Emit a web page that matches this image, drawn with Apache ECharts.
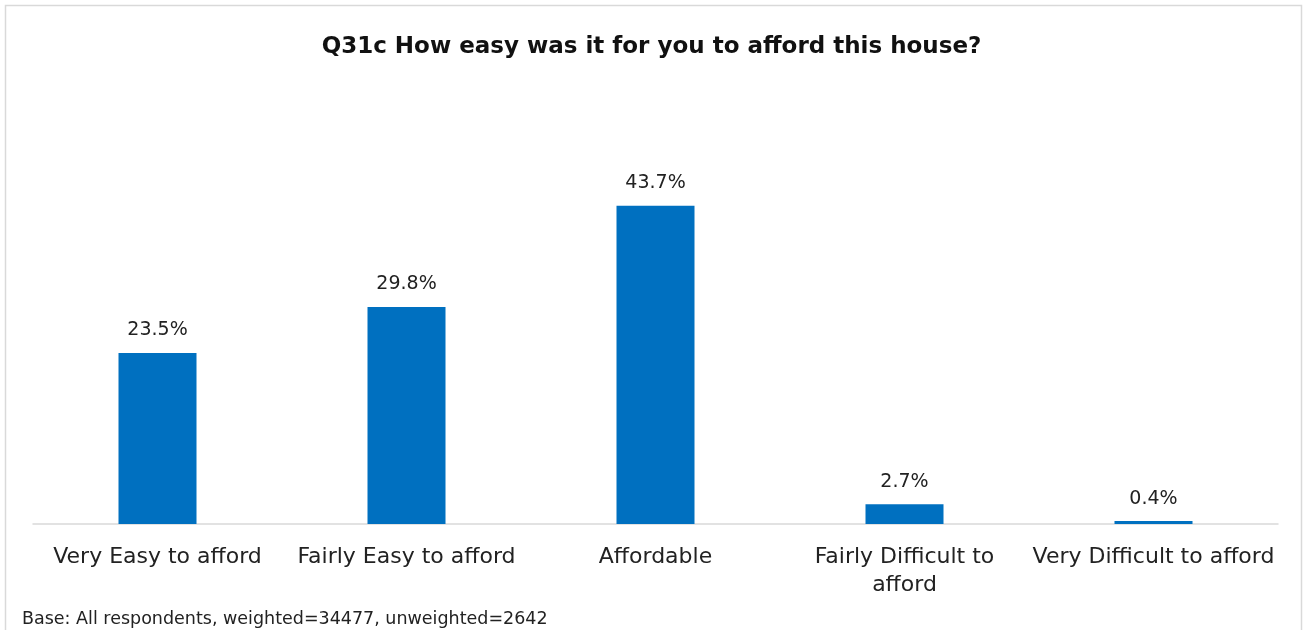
<!DOCTYPE html>
<html>
<head>
<meta charset="utf-8">
<script src="https://cdn.jsdelivr.net/npm/echarts@6/dist/echarts.min.js"></script>
<style>
html,body{margin:0;padding:0;background:#fff;}
#chart{width:1303px;height:630px;}
</style>
</head>
<body>
<div id="chart"></div>
<script>
const titleText = 'Q31c How easy was it for you to afford this house?';
const footnote = 'Base: All respondents, weighted=34477, unweighted=2642';
const categories = ['Very Easy to afford', 'Fairly Easy to afford', 'Affordable', 'Fairly Difficult to afford', 'Very Difficult to afford'];
const values = [23.5, 29.8, 43.7, 2.7, 0.4];
const wrapped = {'Fairly Difficult to afford': 'Fairly Difficult to\nafford'};

const FONT = 'DejaVu Sans';
const chart = echarts.init(document.getElementById('chart'), null, {renderer: 'canvas'});
chart.setOption({
  backgroundColor: '#ffffff',
  animation: false,
  title: {
    text: titleText,
    left: 'center',
    top: 31,
    textStyle: {fontFamily: FONT, fontSize: 23, fontWeight: 'bold', color: '#111'}
  },
  graphic: [
    {type: 'rect', shape: {x: 5.5, y: 5.5, width: 1296, height: 640}, style: {fill: 'none', stroke: '#d9d9d9', lineWidth: 1.5}, silent: true},
    {type: 'text', left: 22, top: 610, style: {text: footnote, fontFamily: FONT, fontSize: 17.5, fill: '#222'}}
  ],
  grid: {left: 33, right: 25, top: 160, bottom: 106, containLabel: false},
  xAxis: {
    type: 'category',
    data: categories,
    axisLine: {show: true, lineStyle: {color: '#d9d9d9', width: 1.5}},
    axisTick: {show: false},
    axisLabel: {
      interval: 0,
      margin: 19,
      fontFamily: FONT,
      fontSize: 22,
      color: '#222',
      lineHeight: 28,
      formatter: v => wrapped[v] || v
    }
  },
  yAxis: {
    type: 'value',
    min: 0,
    max: 50,
    show: false,
    splitLine: {show: false}
  },
  series: [{
    type: 'bar',
    data: values,
    barWidth: 78,
    itemStyle: {color: '#0070C0'},
    label: {
      show: true,
      position: 'top',
      distance: 13,
      fontFamily: FONT,
      fontSize: 19,
      color: '#222',
      formatter: p => p.value.toFixed(1) + '%'
    }
  }]
});
</script>
</body>
</html>
